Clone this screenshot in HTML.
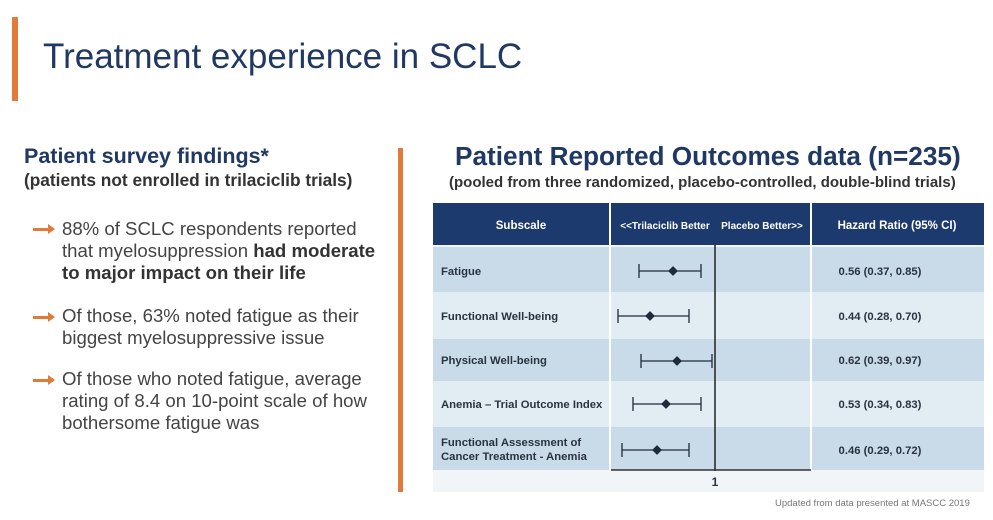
<!DOCTYPE html>
<html><head><meta charset="utf-8"><style>
body{margin:0;width:993px;height:520px;background:#fff;position:relative;overflow:hidden;font-family:"Liberation Sans",Arial,sans-serif}
.a{position:absolute;white-space:nowrap}
.b{position:absolute;left:62px;font-size:18.6px;color:#444;line-height:22px}
.ar{position:absolute;left:33px;width:20px;height:3px;background:#e07b39}
.ar:after{content:"";position:absolute;right:-2px;top:-4px;border-left:7px solid #e07b39;border-top:5.5px solid transparent;border-bottom:5.5px solid transparent}
</style></head><body>
<div class="a" style="left:12px;top:17px;width:6px;height:84px;background:#e07b39"></div>
<div class="a" style="left:43px;top:37px;font-size:35px;color:#1f3864">Treatment experience in SCLC</div>
<div class="a" style="left:398px;top:148px;width:5px;height:344px;background:#e07b39"></div>
<div class="a" style="left:24px;top:144px;font-size:21.5px;font-weight:bold;color:#1f3864">Patient survey findings*</div>
<div class="a" style="left:24px;top:170px;font-size:17.3px;font-weight:bold;color:#333">(patients not enrolled in trilaciclib trials)</div>
<div class="ar" style="top:228px"></div>
<div class="b" style="top:218px">88% of SCLC respondents reported<br>that myelosuppression <b style="color:#333">had moderate<br>to major impact on their life</b></div>
<div class="ar" style="top:316px"></div>
<div class="b" style="top:305px">Of those, 63% noted fatigue as their<br>biggest myelosuppressive issue</div>
<div class="ar" style="top:379px"></div>
<div class="b" style="top:368px">Of those who noted fatigue, average<br>rating of 8.4 on 10-point scale of how<br>bothersome fatigue was</div>
<div class="a" style="left:455px;top:141px;font-size:26.2px;font-weight:bold;color:#1f3864">Patient Reported Outcomes data (n=235)</div>
<div class="a" style="left:449px;top:174px;font-size:15px;font-weight:bold;color:#333">(pooled from three randomized, placebo-controlled, double-blind trials)</div>
<svg class="a" style="left:0;top:0" width="993" height="520">
<rect x="433" y="245" width="551" height="247" fill="#f1f5f8"/>
<rect x="433" y="203" width="551" height="42" fill="#1d3a6e"/>
<line x1="610" y1="203" x2="610" y2="245" stroke="#fff" stroke-width="2"/>
<line x1="811" y1="203" x2="811" y2="245" stroke="#fff" stroke-width="2"/>
<g fill="#fff" font-weight="bold" font-size="11.5" text-anchor="middle">
<text x="521" y="229">Subscale</text><text x="665" y="229" font-size="10">&lt;&lt;Trilaciclib Better</text><text x="762" y="229" font-size="10">Placebo Better&gt;&gt;</text><text x="897" y="229">Hazard Ratio (95% CI)</text></g>
<rect x="433" y="247" width="551" height="45" fill="#c9dbe8"/>
<rect x="433" y="292" width="551" height="47" fill="#e2ecf3"/>
<rect x="433" y="339" width="551" height="42" fill="#c9dbe8"/>
<rect x="433" y="381" width="551" height="46" fill="#e2ecf3"/>
<rect x="433" y="427" width="551" height="43" fill="#c9dbe8"/>
<line x1="610" y1="247" x2="610" y2="470" stroke="#fff" stroke-width="2"/>
<line x1="811" y1="247" x2="811" y2="470" stroke="#fff" stroke-width="2"/>
<g fill="#2a3340" font-weight="bold" font-size="11.3">
<text x="441" y="275">Fatigue</text><text x="441" y="320">Functional Well-being</text><text x="441" y="364">Physical Well-being</text><text x="441" y="408">Anemia – Trial Outcome Index</text><text x="441" y="446">Functional Assessment of</text><text x="441" y="460">Cancer Treatment - Anemia</text>
<text x="880" y="275" text-anchor="middle">0.56 (0.37, 0.85)</text><text x="880" y="320" text-anchor="middle">0.44 (0.28, 0.70)</text><text x="880" y="364" text-anchor="middle">0.62 (0.39, 0.97)</text><text x="880" y="408" text-anchor="middle">0.53 (0.34, 0.83)</text><text x="880" y="454" text-anchor="middle">0.46 (0.29, 0.72)</text>
<text x="715" y="486" text-anchor="middle" font-size="12">1</text></g>
<line x1="715" y1="245" x2="715" y2="471" stroke="#222" stroke-width="1.5"/>
<line x1="611" y1="470" x2="811" y2="470" stroke="#333" stroke-width="1.5"/>
<g stroke="#1f2a3a" stroke-width="1.3" fill="#1f2a3a">
<path d="M639 271H701M639 264V278M701 264V278"/><path d="M673 267l4 4-4 4-4-4z"/>
<path d="M618 316H689M618 309V323M689 309V323"/><path d="M650 312l4 4-4 4-4-4z"/>
<path d="M641 361H712M641 354V368M712 354V368"/><path d="M677 357l4 4-4 4-4-4z"/>
<path d="M633 404H701M633 397V411M701 397V411"/><path d="M666 400l4 4-4 4-4-4z"/>
<path d="M622 450H689M622 443V457M689 443V457"/><path d="M657 446l4 4-4 4-4-4z"/>
</g>
</svg>
<div class="a" style="left:775px;top:498px;font-size:9.5px;color:#777">Updated from data presented at MASCC 2019</div>
</body></html>
